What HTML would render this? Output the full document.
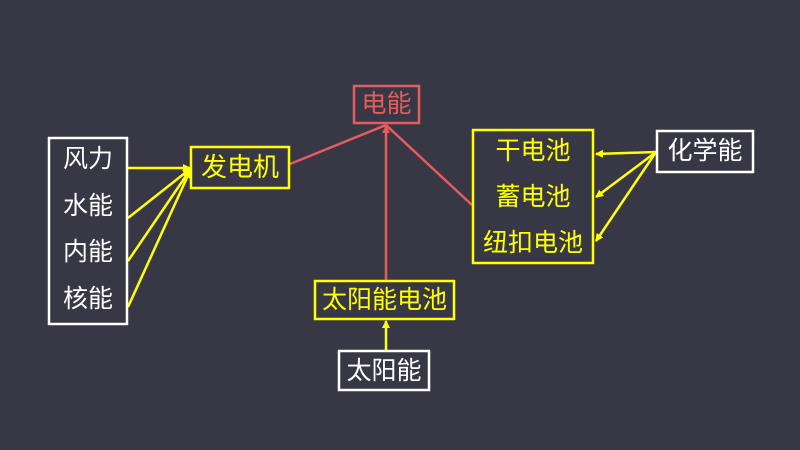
<!DOCTYPE html>
<html><head><meta charset="utf-8"><style>
html,body{margin:0;padding:0;background:#383745;}
svg{display:block}
text{font-family:"Liberation Sans","Noto Sans CJK SC",sans-serif;font-size:25px;text-anchor:middle;dominant-baseline:central}
</style></head><body>
<svg width="800" height="450" viewBox="0 0 800 450">
<rect x="0" y="0" width="800" height="450" fill="#383745"/>
<defs>
<marker id="ay" markerWidth="8" markerHeight="8" refX="7" refY="4" orient="auto" markerUnits="userSpaceOnUse"><path d="M0,0 L8,4 L0,8 z" fill="#ffff00"/></marker>
<marker id="ar" markerWidth="8" markerHeight="8" refX="7" refY="4" orient="auto" markerUnits="userSpaceOnUse"><path d="M0,0 L8,4 L0,8 z" fill="#e65c5c"/></marker>
</defs>
<g stroke="#e65c5c" stroke-width="2.5" fill="none">
<line x1="290" y1="164" x2="386" y2="125"/>
<line x1="386" y1="281" x2="386" y2="126" marker-end="url(#ar)"/>
<line x1="472" y1="205" x2="386" y2="125"/>
</g>
<g stroke="#ffff00" stroke-width="2.5" fill="none">
<line x1="128" y1="168" x2="190" y2="168" marker-end="url(#ay)"/>
<line x1="128" y1="218" x2="190" y2="169" marker-end="url(#ay)"/>
<line x1="128" y1="261" x2="190" y2="170" marker-end="url(#ay)"/>
<line x1="128" y1="307" x2="190" y2="171" marker-end="url(#ay)"/>
<line x1="386" y1="350" x2="386" y2="321" marker-end="url(#ay)"/>
<line x1="656" y1="152" x2="596" y2="154" marker-end="url(#ay)"/>
<line x1="656" y1="152" x2="596" y2="197" marker-end="url(#ay)"/>
<line x1="656" y1="152" x2="596" y2="241" marker-end="url(#ay)"/>
</g>
<rect x="49" y="138" width="78" height="186" fill="none" stroke="#ffffff" stroke-width="2.5"/>
<text x="88" y="159" fill="#ffffff">风力</text>
<text x="88" y="206" fill="#ffffff">水能</text>
<text x="88" y="252" fill="#ffffff">内能</text>
<text x="88" y="299" fill="#ffffff">核能</text>

<rect x="191" y="147" width="98" height="41" fill="none" stroke="#ffff00" stroke-width="2.5"/>
<text x="240" y="167" fill="#ffff00" style="font-size:26px">发电机</text>

<rect x="354" y="86" width="65" height="37" fill="none" stroke="#e65c5c" stroke-width="2.5"/>
<text x="386.5" y="104" fill="#e65c5c">电能</text>

<rect x="315" y="281" width="139" height="38" fill="none" stroke="#ffff00" stroke-width="2.5"/>
<text x="384.5" y="300" fill="#ffff00">太阳能电池</text>

<rect x="339" y="351" width="90" height="39" fill="none" stroke="#ffffff" stroke-width="2.5"/>
<text x="384" y="371" fill="#ffffff">太阳能</text>

<rect x="473" y="130" width="120" height="133" fill="none" stroke="#ffff00" stroke-width="2.5"/>
<text x="533" y="151" fill="#ffff00">干电池</text>
<text x="533" y="197" fill="#ffff00">蓄电池</text>
<text x="533" y="243" fill="#ffff00">纽扣电池</text>

<rect x="657" y="131" width="96" height="41" fill="none" stroke="#ffffff" stroke-width="2.5"/>
<text x="705" y="151" fill="#ffffff">化学能</text>
</svg>
</body></html>
